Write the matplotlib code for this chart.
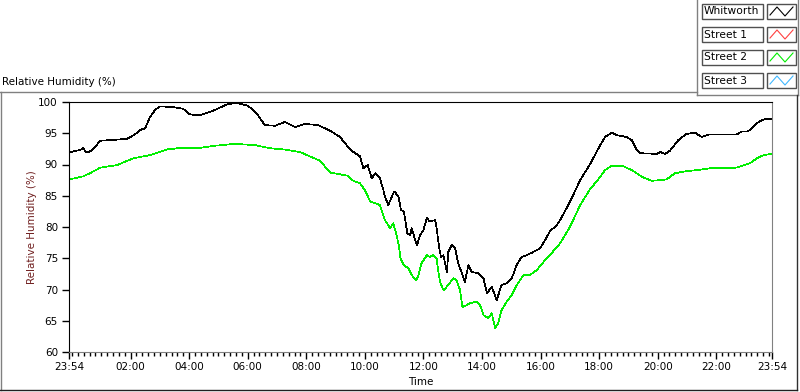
import numpy as np
import matplotlib
matplotlib.use('Agg')
import matplotlib.pyplot as plt
from matplotlib.patches import Rectangle
from matplotlib.lines import Line2D
from matplotlib.ticker import FixedLocator

# minutes after 23:54 (start of the log) and relative humidity (%)
whitworth_t = [0, 14, 23, 29, 35, 43, 51, 64, 84, 119, 135, 145, 156, 166, 176, 186,
               213, 234, 248, 268, 295, 326, 346, 367, 387, 401, 422, 442, 463, 483,
               510, 535, 555, 577, 596, 603, 612, 620, 628, 637, 644, 647, 654, 660,
               666, 675, 680, 686, 693, 699, 702, 709, 713, 719, 726, 733, 739, 750,
               753, 759, 762, 767, 774, 777, 784, 791, 797, 804, 811, 818, 825, 838,
               849, 856, 866, 876, 886, 897, 907, 917, 927, 938, 951, 965, 975, 985,
               999, 1006, 1026, 1047, 1067, 1088, 1098, 1112, 1122, 1142, 1153, 1163,
               1171, 1204, 1211, 1221, 1231, 1248, 1265, 1282, 1296, 1310, 1368, 1378,
               1391, 1409, 1419, 1429, 1440]
whitworth_rh = [91.9, 92.2, 92.3, 92.7, 91.9, 92.1, 92.6, 93.8, 93.9, 94.1, 94.8, 95.5,
                95.8, 97.6, 98.7, 99.3, 99.2, 98.9, 98.0, 97.9, 98.6, 99.7, 99.8, 99.4,
                97.9, 96.3, 96.2, 96.8, 96.0, 96.5, 96.3, 95.4, 94.4, 92.3, 91.3, 89.4,
                89.9, 87.8, 88.6, 87.8, 85.9, 84.9, 83.5, 84.6, 85.7, 84.9, 82.7, 82.5,
                79.0, 78.7, 79.8, 77.9, 77.1, 78.7, 79.5, 81.4, 80.9, 81.1, 79.8, 76.3,
                75.2, 75.5, 72.8, 76.0, 77.1, 76.6, 74.2, 72.8, 71.2, 73.9, 72.8, 72.6,
                71.8, 69.4, 70.4, 68.3, 70.7, 71.0, 71.8, 73.9, 75.2, 75.5, 76.0, 76.6,
                77.9, 79.3, 80.3, 81.1, 84.0, 87.5, 90.0, 93.1, 94.4, 95.1, 94.7, 94.4,
                93.9, 92.3, 91.8, 91.7, 92.0, 91.7, 92.2, 93.9, 94.9, 95.1, 94.4, 94.8,
                94.8, 95.3, 95.3, 96.6, 97.1, 97.3, 97.3]

street2_t = [0, 29, 43, 64, 98, 132, 166, 200, 234, 262, 299, 340, 381, 412, 442, 473,
             514, 535, 572, 579, 596, 606, 617, 637, 647, 658, 664, 671, 676, 679, 686,
             695, 702, 711, 716, 722, 733, 739, 746, 753, 756, 760, 767, 777, 787, 794,
             801, 806, 815, 821, 835, 842, 849, 859, 866, 873, 879, 886, 897, 907, 917,
             931, 944, 958, 972, 985, 1006, 1026, 1047, 1067, 1088, 1098, 1112, 1133,
             1153, 1174, 1194, 1211, 1224, 1241, 1262, 1286, 1313, 1368, 1382, 1395,
             1409, 1423, 1440]
street2_rh = [87.6, 88.1, 88.6, 89.5, 89.9, 91.0, 91.5, 92.4, 92.7, 92.6, 93.0, 93.3,
              93.1, 92.6, 92.4, 92.0, 90.6, 88.7, 88.2, 87.5, 87.0, 85.9, 84.1, 83.5,
              81.1, 79.8, 80.6, 78.7, 76.9, 75.0, 73.9, 73.4, 72.3, 71.5, 72.3, 74.2,
              75.5, 75.2, 75.5, 75.0, 73.1, 71.2, 69.9, 70.7, 71.8, 71.5, 69.9, 67.2,
              67.5, 67.8, 68.1, 67.5, 65.9, 65.4, 66.2, 63.8, 64.6, 66.7, 68.1, 69.1,
              70.7, 72.3, 72.3, 73.1, 74.4, 75.5, 77.4, 80.0, 83.5, 86.0, 88.0, 89.1,
              89.8, 89.8, 89.1, 88.0, 87.4, 87.5, 87.6, 88.6, 88.9, 89.1, 89.4, 89.5,
              89.9, 90.2, 91.0, 91.5, 91.7]

tick_pos = [0, 126, 246, 366, 486, 606, 726, 846, 966, 1086, 1206, 1326, 1440]
tick_labels = ['23:54', '02:00', '04:00', '06:00', '08:00', '10:00', '12:00',
               '14:00', '16:00', '18:00', '20:00', '22:00', '23:54']
y_ticks = [60, 65, 70, 75, 80, 85, 90, 95, 100]

legend_names = ['Whitworth', 'Street 1', 'Street 2', 'Street 3']
legend_colors = ['#000000', '#ff4040', '#00ee00', '#40b8ff']

plt.rcParams['font.family'] = ['DejaVu Sans']

W, H = 800, 392
def fx(px):
    return px / W
def fy(py):
    return 1 - py / H

fig = plt.figure(figsize=(8, 3.92), dpi=100)
ax = fig.add_axes([fx(69), fy(352), fx(772) - fx(69), fy(102) - fy(352)])

ax.plot(street2_t, street2_rh, color='#00ee00', lw=0.5, antialiased=False)
ax.plot(whitworth_t, whitworth_rh, color='#000000', lw=0.5, antialiased=False)

ax.set_xlim(0, 1440)
ax.set_ylim(60, 100)
ax.xaxis.set_major_locator(FixedLocator(tick_pos))
ax.set_xticklabels(tick_labels)
ax.xaxis.set_minor_locator(FixedLocator(np.arange(6, 1440, 12)))
ax.set_yticks(y_ticks)
ax.tick_params(axis='both', which='major', length=5, width=1, labelsize=7.5, pad=2)
ax.tick_params(axis='x', which='minor', length=3, width=1)
ax.tick_params(axis='y', pad=3)

ax.set_xlabel('Time', fontsize=7.5, labelpad=4)
ax.set_ylabel('Relative Humidity (%)', fontsize=7.5, color='#702020', labelpad=1)

for side in ['left', 'top']:
    ax.spines[side].set_color('#000000')
for side in ['right', 'bottom']:
    ax.spines[side].set_color('#808080')

# panel caption and frame
fig.text(fx(2), fy(82), 'Relative Humidity (%)', fontsize=7.5, va='center', ha='left')
gray = '#808080'
frame = [
    ([0, 697], [91.5, 91.5], gray),
    ([697, 697], [0, 95], gray),
    ([697, 798], [95, 95], gray),
    ([798, 798], [0, 95], gray),
    ([797, 797], [95, 390], '#303030'),
    ([0.5, 0.5], [91.5, 390], gray),
    ([0, 797], [390, 390], '#202020'),
]
for xs, ys, c in frame:
    fig.add_artist(Line2D([fx(v) for v in xs], [fy(v) for v in ys],
                          transform=fig.transFigure, color=c, lw=1))

# legend boxes
for i, (name, col) in enumerate(zip(legend_names, legend_colors)):
    top = 4 + i * 23
    fig.add_artist(Rectangle((fx(702), fy(top + 15)), fx(61), fy(top) - fy(top + 15),
                             transform=fig.transFigure, facecolor='white',
                             edgecolor='#505050', lw=1))
    fig.text(fx(704), fy(top + 7.5), name, fontsize=7.7, va='center', ha='left')
    fig.add_artist(Rectangle((fx(767), fy(top + 15)), fx(29), fy(top) - fy(top + 15),
                             transform=fig.transFigure, facecolor='white',
                             edgecolor='#505050', lw=1))
    zx = [770, 777, 785, 793]
    zy = [top + 11, top + 3, top + 12, top + 3]
    fig.add_artist(Line2D([fx(v) for v in zx], [fy(v) for v in zy],
                          transform=fig.transFigure, color=col, lw=0.8))

fig.savefig('out.png', dpi=100)
